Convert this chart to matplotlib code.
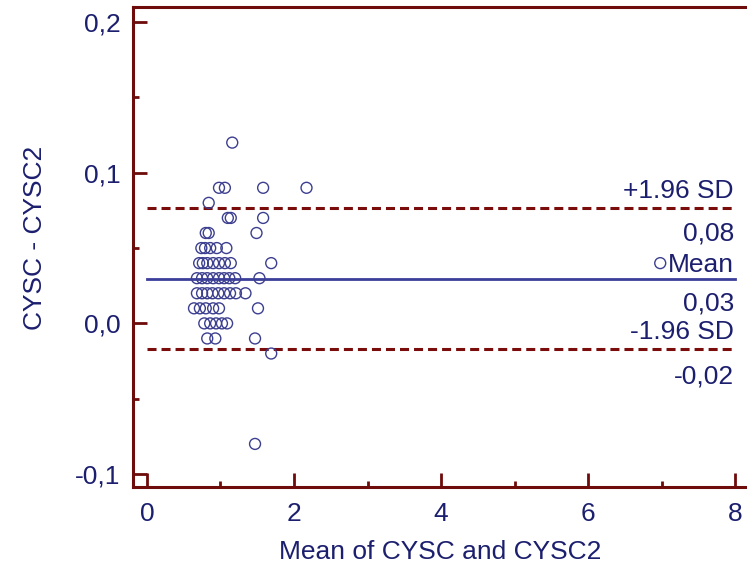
import matplotlib
matplotlib.use("Agg")
import matplotlib.pyplot as plt
from matplotlib.ticker import MultipleLocator, FuncFormatter

plt.rcParams['font.family'] = ['Liberation Sans', 'DejaVu Sans']
plt.rcParams['lines.scale_dashes'] = False

# Bland-Altman data: mean of the two methods (x) and their difference (y)
x_mean = [1.16,
          0.98, 1.06, 1.58, 2.17,
          0.84,
          1.10, 1.14, 1.58,
          0.80, 0.84, 1.49,
          0.74, 0.79, 0.86, 0.95, 1.08,
          0.71, 0.76, 0.82, 0.90, 0.98, 1.06, 1.14, 1.69, 6.98,
          0.68, 0.75, 0.82, 0.90, 0.98, 1.05, 1.12, 1.20, 1.53,
          0.68, 0.75, 0.82, 0.89, 0.97, 1.05, 1.13, 1.21, 1.34,
          0.64, 0.72, 0.80, 0.90, 0.98, 1.51,
          0.78, 0.86, 0.94, 1.02, 1.09,
          0.82, 0.93, 1.47,
          1.69,
          1.47]
y_diff = [0.12,
          0.09, 0.09, 0.09, 0.09,
          0.08,
          0.07, 0.07, 0.07,
          0.06, 0.06, 0.06,
          0.05, 0.05, 0.05, 0.05, 0.05,
          0.04, 0.04, 0.04, 0.04, 0.04, 0.04, 0.04, 0.04, 0.04,
          0.03, 0.03, 0.03, 0.03, 0.03, 0.03, 0.03, 0.03, 0.03,
          0.02, 0.02, 0.02, 0.02, 0.02, 0.02, 0.02, 0.02, 0.02,
          0.01, 0.01, 0.01, 0.01, 0.01, 0.01,
          0.00, 0.00, 0.00, 0.00, 0.00,
          -0.01, -0.01, -0.01,
          -0.02,
          -0.08]

mean_diff = 0.0295
upper_loa = 0.0766
lower_loa = -0.017
line_labels = ['+1.96 SD', '0,08', 'Mean', '0,03', '-1.96 SD', '-0,02']

navy = '#1c1f6e'
red = '#6e0b0b'

fig = plt.figure(figsize=(7.47, 5.70), dpi=100)
ax = fig.add_axes([0.178, 0.1456, 0.822, 0.8421])

ax.scatter(x_mean, y_diff, s=62, facecolors='none', edgecolors='#3c3f8f',
           linewidths=1.0, zorder=3)

ax.plot([0, 8], [mean_diff, mean_diff], color='#3b3f9a', lw=2.0, zorder=2)
ax.plot([0, 8], [upper_loa, upper_loa], color='#7a0c0c', lw=2.2,
        dashes=(6.5, 3.6), zorder=2)
ax.plot([0, 8], [lower_loa, lower_loa], color='#7a0c0c', lw=2.2,
        dashes=(6.5, 3.6), zorder=2)

fs = 19
offsets = [(upper_loa, 7.0), (upper_loa, -23.5), (mean_diff, 5),
           (mean_diff, -23), (lower_loa, 7.0), (lower_loa, -24.5)]
for txt, (yv, dy) in zip(line_labels, offsets):
    ax.annotate(txt, xy=(7.98, yv), xytext=(0, dy), textcoords='offset points',
                ha='right', va='baseline', fontsize=fs, color=navy)

ax.set_xlim(-0.19, 8.16)
ax.set_ylim(-0.1086, 0.21)

ax.xaxis.set_major_locator(MultipleLocator(2))
ax.xaxis.set_minor_locator(MultipleLocator(1))
ax.yaxis.set_major_locator(MultipleLocator(0.1))
ax.yaxis.set_minor_locator(MultipleLocator(0.05))
ax.yaxis.set_major_formatter(FuncFormatter(lambda v, p: ('%.1f' % v).replace('.', ',')))

for side in ['left', 'bottom', 'top']:
    ax.spines[side].set_color(red)
    ax.spines[side].set_linewidth(2.2)
ax.spines['right'].set_visible(False)

ax.tick_params(which='both', direction='in', color=red, width=2.0,
               labelcolor=navy, labelsize=fs)
ax.tick_params(which='major', length=10)
ax.tick_params(which='minor', length=4.5)
ax.tick_params(axis='y', pad=9)
ax.tick_params(axis='x', pad=11)

ax.set_xlabel('Mean of CYSC and CYSC2', fontsize=fs, color=navy, labelpad=10)
ax.set_ylabel('CYSC - CYSC2', fontsize=fs, color=navy)
ax.yaxis.set_label_coords(-0.14, 0.52)

fig.savefig('out.png', dpi=100)
